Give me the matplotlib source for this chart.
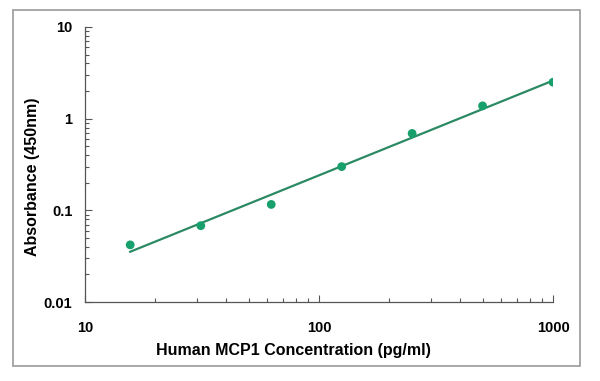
import numpy as np
import matplotlib
matplotlib.use("Agg")
import matplotlib.pyplot as plt
from matplotlib.patches import Rectangle
from matplotlib.ticker import LogLocator, NullFormatter, FixedLocator, FixedFormatter

plt.rcParams["font.family"] = ["Liberation Sans", "DejaVu Sans"]
plt.rcParams["font.weight"] = "bold"

# standard curve
conc = [15.6, 31.25, 62.5, 125, 250, 500, 1000]
absorb = [0.042, 0.068, 0.116, 0.30, 0.69, 1.38, 2.5]

x_ticks = [10, 100, 1000]
x_labels = ["10", "100", "1000"]
y_ticks = [0.01, 0.1, 1, 10]
y_labels = ["0.01", "0.1", "1", "10"]

POINT_COLOR = "#17a06b"
LINE_COLOR = "#2b8a63"

fig = plt.figure(figsize=(6, 3.81), dpi=100)
ax = fig.add_axes([85 / 600, 1 - 302 / 381, 468 / 600, 275 / 381])

# power fit through the points
lx, ly = np.log10(conc), np.log10(absorb)
k, b = np.polyfit(lx, ly, 1)
xf = np.array([conc[0], conc[-1]])
ax.plot(xf, 10 ** (k * np.log10(xf) + b), color=LINE_COLOR, lw=1.6, zorder=2)
ax.scatter(conc, absorb, s=40, color=POINT_COLOR, edgecolors="none", zorder=3)

ax.set_xscale("log")
ax.set_yscale("log")
ax.set_xlim(10, 1000)
ax.set_ylim(0.01, 10)

ax.xaxis.set_major_locator(FixedLocator(x_ticks))
ax.xaxis.set_major_formatter(FixedFormatter(x_labels))
ax.yaxis.set_major_locator(FixedLocator(y_ticks))
ax.yaxis.set_major_formatter(FixedFormatter(y_labels))
for axis in (ax.xaxis, ax.yaxis):
    axis.set_minor_locator(LogLocator(base=10, subs=np.arange(2, 10)))
    axis.set_minor_formatter(NullFormatter())

ax.tick_params(which="both", direction="in", color="#555555", width=0.8)
ax.tick_params(which="major", length=5)
ax.tick_params(which="minor", length=3)
ax.tick_params(axis="x", which="major", pad=14, labelsize=10.5)
ax.tick_params(axis="y", which="major", pad=9, labelsize=10.5)

for side in ("top", "right"):
    ax.spines[side].set_visible(False)
for side in ("left", "bottom"):
    ax.spines[side].set_color("#555555")
    ax.spines[side].set_linewidth(0.9)

fig.text(293 / 600, 1 - 350 / 381, "Human MCP1 Concentration (pg/ml)",
         ha="center", va="center", fontsize=11.5, fontweight="bold")
fig.text(33 / 600, 1 - 177 / 381, "Absorbance (450nm)", rotation=90,
         ha="center", va="center", fontsize=11.5, fontweight="bold")

# outer frame
fig.patches.append(Rectangle((13 / 600, 1 - 366 / 381), 567 / 600, 356 / 381,
                             transform=fig.transFigure, fill=False,
                             edgecolor="#999999", lw=1.2))

fig.savefig("out.png", dpi=100)
